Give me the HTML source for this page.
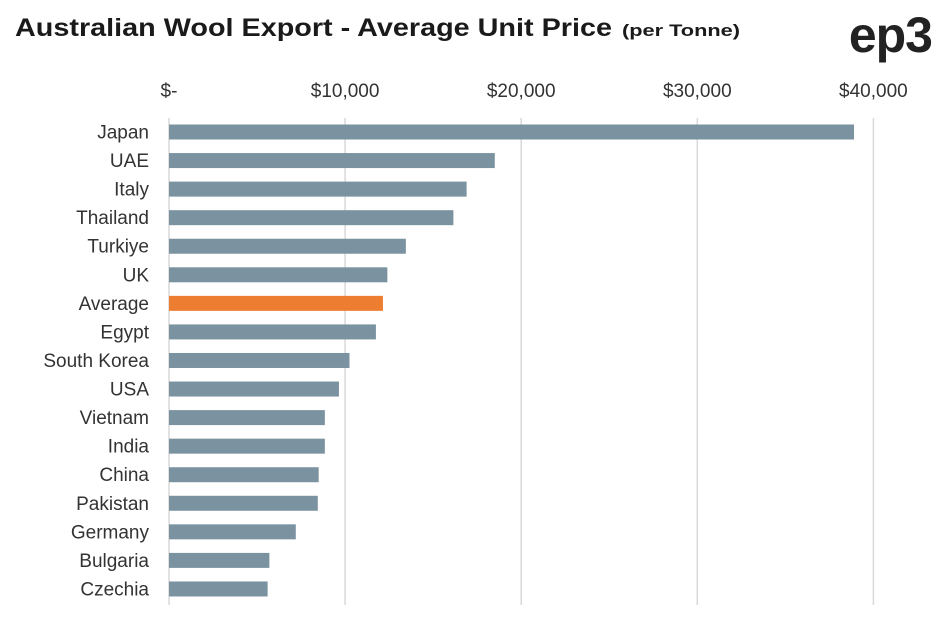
<!DOCTYPE html>
<html><head><meta charset="utf-8"><style>
body{margin:0;background:#fff;width:941px;height:620px;overflow:hidden;font-family:"Liberation Sans",sans-serif}
</style></head><body>
<svg id="c" width="941" height="620" xmlns="http://www.w3.org/2000/svg">
<text x="15" y="36" font-size="25" font-weight="bold" fill="#1a1a1a" textLength="597" lengthAdjust="spacingAndGlyphs">Australian Wool Export - Average Unit Price</text>
<text x="622" y="36" font-size="17" font-weight="bold" fill="#1a1a1a" textLength="118" lengthAdjust="spacingAndGlyphs">(per Tonne)</text>
<text x="932" y="52" text-anchor="end" font-size="50" font-weight="bold" fill="#222" letter-spacing="-1">ep3</text>
<g id="grid"></g><g id="bars"></g>
</svg>
<script>
const categories=["Japan","UAE","Italy","Thailand","Turkiye","UK","Average","Egypt","South Korea","USA","Vietnam","India","China","Pakistan","Germany","Bulgaria","Czechia"];
const values=[38900,18500,16900,16150,13450,12400,12150,11750,10250,9650,8850,8850,8500,8450,7200,5700,5600];
const ticks=[0,10000,20000,30000,40000];
const tickLabels=["$-","$10,000","$20,000","$30,000","$40,000"];
const NS="http://www.w3.org/2000/svg";
const x=v=>169+v*0.01761;
const y=i=>132+i*28.56;
const g=document.getElementById('grid'),b=document.getElementById('bars');
function mk(t,a,p){const e=document.createElementNS(NS,t);for(const k in a)e.setAttribute(k,a[k]);p.appendChild(e);return e;}
ticks.forEach((t,i)=>{
 const l=mk('line',{x1:x(t),x2:x(t),y1:118,y2:605,stroke:'#d9d9d9','stroke-width':1.5},g);
 
 
 const tx=mk('text',{x:x(t),y:97,'text-anchor':'middle','font-size':19,fill:'#333'},g);
 tx.textContent=tickLabels[i];
 
 
});
categories.forEach((c,i)=>{
 const r=mk('rect',{x:x(0),y:y(i)-7.5,width:x(values[i])-x(0),height:15,fill:c==="Average"?'#ed7d31':'#7b93a0'},b);
 
 
 const t=mk('text',{x:149,y:y(i)+6.5,'text-anchor':'end','font-size':19,fill:'#333'},b);
 t.textContent=c;
 
 
});
</script>
</body></html>
